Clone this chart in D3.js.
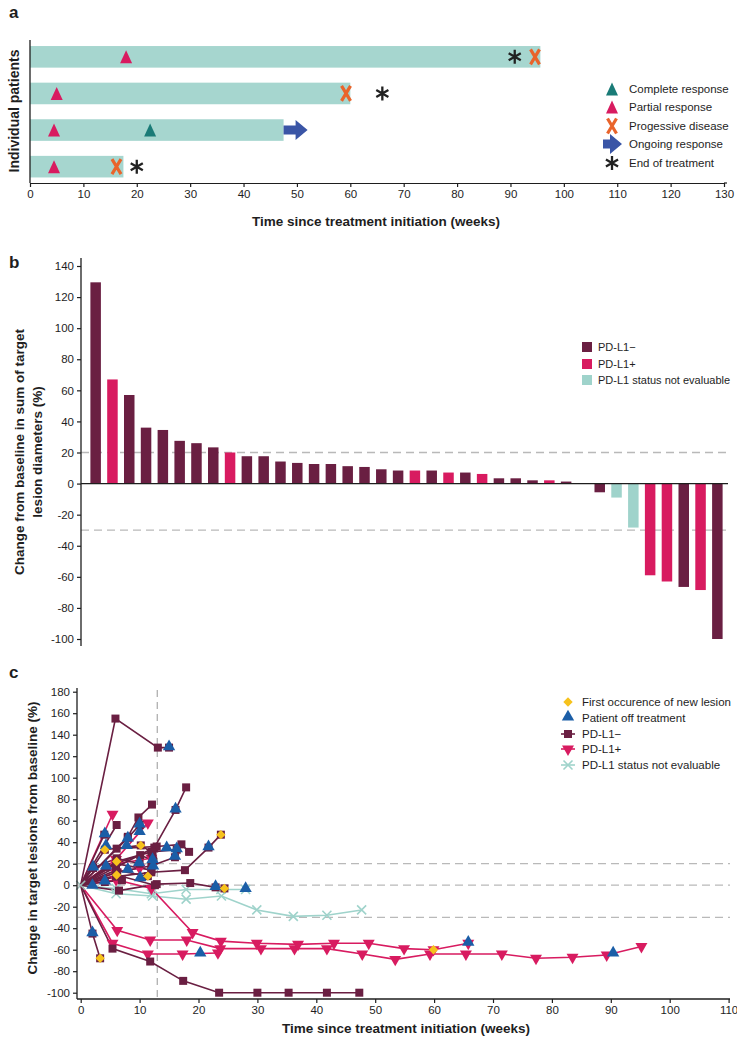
<!DOCTYPE html>
<html><head><meta charset="utf-8">
<script src="https://cdn.jsdelivr.net/npm/d3@7"></script>
<style>
body{margin:0;background:#fff}
svg{display:block;font-family:"Liberation Sans",Arial,sans-serif}
</style></head><body>
<svg id="chart" width="737" height="1039"></svg>
<script>
// ---------------- DATA ----------------
// Panel a: swimmer plot (weeks)
const aPatients=[0,1,2,3];
const aDurations=[95.6,60,47.5,17.5];
const aPartial=[18,5,4.5,4.5];
const aComplete=[null,null,22.5,null];
const aProgressive=[94.6,59.2,null,16.2];
const aEndTreatment=[90.8,66,null,20];
const aOngoingTo=[null,null,52,null];
const aTicks=[0,10,20,30,40,50,60,70,80,90,100,110,120,130];
const aLegend=["Complete response","Partial response","Progessive disease","Ongoing response","End of treatment"];

// Panel b: waterfall (best % change)
const bValues=[129.5,67,57,36,34.5,27.5,26,23.3,20,17.6,17.6,14.2,13.3,12.6,12.6,11.2,10.7,9.2,8.4,8.4,8.4,7.1,7.1,6.2,3.4,3.4,2.1,2.1,1.3,0,-5.6,-9,-28.3,-59,-63,-66.5,-68.5,-100];
const bGroups=["neg","pos","neg","neg","neg","neg","neg","neg","pos","neg","neg","neg","neg","neg","neg","neg","neg","neg","neg","pos","neg","pos","neg","pos","neg","neg","neg","pos","neg","neg","neg","ne","ne","pos","pos","neg","pos","neg"];
const bTicks=[-100,-80,-60,-40,-20,0,20,40,60,80,100,120,140];
const bRefLines=[20,-30];
const bLegend=["PD-L1\u2212","PD-L1+","PD-L1 status not evaluable"];

// Panel c: spider plot, [week, % change]
const cGroups=["neg","neg","neg","neg","neg","neg","neg","neg","neg","neg","neg","neg","neg","neg","neg","neg","neg","neg","neg","neg",
               "pos","pos","pos","pos","pos","pos","pos","ne","ne"];
const cSeries=[
 [[0,0],[5.9,155],[13.1,128],[15,128]],
 [[0,0],[6.1,56]],
 [[0,0],[8,45],[9.8,63],[12.1,75]],
 [[0,0],[12.5,35],[16.1,70],[17.9,91]],
 [[0,0],[6,8],[12,12],[17.7,14],[21.7,35],[23.8,47]],
 [[0,0],[6.5,-5],[12.9,1],[18.6,2],[22.9,-2],[24.4,-3]],
 [[0,0],[2,-45],[3.3,-68]],
 [[0,0],[5.4,-59],[11.8,-71],[17.4,-89],[23.5,-100],[30,-100],[35.3,-100],[41.8,-100],[47.3,-100]],
 [[0,0],[6.1,34],[12.9,36],[17.1,38],[18.4,31]],
 [[0,0],[6.1,22],[12,31],[16.3,33]],
 [[0,0],[4.1,33],[10.2,37],[12.2,30]],
 [[0,0],[6.1,9.5],[12.6,0]],
 [[0,0],[4.3,17],[10.1,28],[12.3,23]],
 [[0,0],[4.1,3],[7,4.6]],
 [[0,0],[6,14],[11.4,8.4]],
 [[0,0],[2.1,16],[6.1,25],[10,20]],
 [[0,0],[4,47]],
 [[0,0],[8,44],[10,56]],
 [[0,0],[6.2,12],[12,18],[16,26]],
 [[0,0],[6,20],[12,14]],
 [[0,0],[6.2,-42],[11.8,-51],[18,-51],[23.7,-59],[30.6,-59],[36.3,-59],[41.8,-59],[47.8,-64],[53.4,-69],[59.3,-64],[65.4,-64],[71.5,-64],[77.3,-68],[83.5,-67],[89.3,-65],[95.2,-57]],
 [[0,0],[5.4,-54],[11.4,-64],[17.3,-64],[23.3,-63]],
 [[0,0],[6,5],[12,-3],[19,-44],[23.8,-52],[29.9,-54],[36.9,-55],[43,-54],[48.9,-54],[54.9,-59],[59.9,-60],[65.8,-54]],
 [[0,0],[5.4,66]],
 [[0,0],[6,24],[11.4,58]],
 [[0,0],[6,20],[12,25]],
 [[0,0],[6,12],[10,16]],
 [[0,0],[6,-8],[12.2,-10],[17.9,-13],[23.9,-10],[29.9,-23],[36.1,-29],[41.8,-28],[47.7,-23]],
 [[0,0],[6,-3],[12,-8],[17.9,-4],[23.8,-4],[28,-4]]
];
const cOffTreatment=[[15,128],[16.1,70],[21.7,35],[22.9,-2],[28,-4],[2,-45],[20.3,-64],[65.8,-54],[90.4,-64],
 [4.1,47],[8,43],[10,49],[10,56],[4.3,36],[7.8,36],[2.1,16],[4.3,17],[8,14],[9.9,20],[10.1,6],[12.2,23],[12.3,17],[14.6,34],[16.3,33],[16,26],[2,-1],[4.1,3]];
const cNewLesion=[[4.1,33],[6.1,22],[6.1,9.5],[10.2,37],[11.4,8.4],[23.8,47],[24.4,-3],[3.3,-68],[59.9,-60]];
const cYTicks=[-100,-80,-60,-40,-20,0,20,40,60,80,100,120,140,160,180];
const cXTicks=[0,10,20,30,40,50,60,70,80,90,100,110];
const cRefLines=[20,0,-30];
const cCutoffWeek=13;
const cLegend=["First occurence of new lesion","Patient off treatment","PD-L1\u2212","PD-L1+","PD-L1 status not evaluable"];

// ---------------- STYLE ----------------
const COL={neg:"#6a1f42",pos:"#d81b60",ne:"#9fd3cb",blue:"#1b5ea7",yellow:"#f6c21c",orange:"#e9642b",bar:"#a6d6cf",cr:"#1a7b77",arrow:"#3a55a6",ink:"#1e1e1e",dash:"#b9b9b9"};
const svg=d3.select("#chart");
const TF=11.5;
function styleAxis(g){
  g.selectAll("path,line").attr("stroke",COL.ink).attr("stroke-width",1.2);
  g.selectAll("text").attr("font-size",TF).attr("fill",COL.ink).attr("font-family","'Liberation Sans',Arial,sans-serif");
}
function bold(t,x,y,size,anchor,rot){
  const e=svg.append("text").attr("font-weight","bold").attr("font-size",size).attr("fill",COL.ink)
   .attr("text-anchor",anchor||"middle");
  if(rot){e.attr("transform",`translate(${x},${y}) rotate(-90)`);} else {e.attr("x",x).attr("y",y);}
  e.text(t);return e;
}
function asterisk(g,x,y,r){
  const p=d3.path();
  for(let k=0;k<3;k++){const a=Math.PI/2+k*Math.PI/3;p.moveTo(x+r*Math.cos(a),y+r*Math.sin(a));p.lineTo(x-r*Math.cos(a),y-r*Math.sin(a));}
  g.append("path").attr("d",p.toString()).attr("stroke","#222").attr("stroke-width",2.3).attr("fill","none");
}
function xMark(g,x,y){
  const p=d3.path();p.moveTo(x-4.5,y-7.5);p.lineTo(x+4.5,y+7.5);p.moveTo(x+4.5,y-7.5);p.lineTo(x-4.5,y+7.5);
  g.append("path").attr("d",p.toString()).attr("stroke",COL.orange).attr("stroke-width",3.2).attr("fill","none");
}
function tri(g,x,y,col,w,h){
  g.append("path").attr("d",`M${x},${y-h/2}L${x+w/2},${y+h/2}L${x-w/2},${y+h/2}Z`).attr("fill",col);
}
function arrow(g,x0,x1,y){
  const hl=12,sh=4.5,hh=10;
  g.append("path").attr("d",`M${x0},${y-sh}L${x1-hl},${y-sh}L${x1-hl},${y-hh}L${x1},${y}L${x1-hl},${y+hh}L${x1-hl},${y+sh}L${x0},${y+sh}Z`).attr("fill",COL.arrow);
}

// ---------------- PANEL A ----------------
bold("a",9,18,17,"start");
const xA=d3.scaleLinear().domain([0,130]).range([30,724]);
const yA=d3.scaleBand().domain(aPatients).range([40,183.5]).paddingInner(0.41).paddingOuter(0.165);
const gA=svg.append("g");
gA.selectAll("rect.bar").data(aPatients).join("rect")
  .attr("x",xA(0)).attr("y",d=>yA(d)).attr("width",d=>xA(aDurations[d])-xA(0)).attr("height",yA.bandwidth()).attr("fill",COL.bar);
aPatients.forEach(i=>{
  const cy=yA(i)+yA.bandwidth()/2;
  if(aOngoingTo[i]!=null) arrow(gA,xA(aDurations[i]),xA(aOngoingTo[i]),cy);
  if(aPartial[i]!=null) tri(gA,xA(aPartial[i]),cy,COL.pos,12,13);
  if(aComplete[i]!=null) tri(gA,xA(aComplete[i]),cy,COL.cr,12,13);
  if(aEndTreatment[i]!=null) asterisk(gA,xA(aEndTreatment[i]),cy,7);
  if(aProgressive[i]!=null) xMark(gA,xA(aProgressive[i]),cy);
});
svg.append("line").attr("x1",30).attr("x2",30).attr("y1",40).attr("y2",183).attr("stroke",COL.ink).attr("stroke-width",1.3);
const axA=svg.append("g").attr("transform","translate(0,183)")
  .call(d3.axisBottom(xA).tickValues(aTicks).tickSize(4).tickPadding(3).tickSizeOuter(0));
styleAxis(axA);
svg.append("line").attr("x1",724).attr("x2",727).attr("y1",183).attr("y2",183).attr("stroke",COL.ink).attr("stroke-width",1.2);
bold("Individual patients",19,111,14,"middle",true);
bold("Time since treatment initiation (weeks)",376,226,13.5);
// legend a
const la=svg.append("g");
const laY=[89,107,126,144,163];
tri(la,612,laY[0],COL.cr,12,13);
tri(la,612,laY[1],COL.pos,12,13);
xMark(la,612,laY[2]);
arrow(la,603,622,laY[3]);
asterisk(la,612,laY[4],7);
aLegend.forEach((t,i)=>la.append("text").attr("x",629).attr("y",laY[i]+4).attr("font-size",11.5).attr("fill",COL.ink).text(t));

// ---------------- PANEL B ----------------
bold("b",9,268,17,"start");
const xB=d3.scaleBand().domain(d3.range(bValues.length)).range([83,730]).paddingInner(0.375).paddingOuter(0.44);
const yB=d3.scaleLinear().domain([-100,140]).range([639,266]);
svg.append("g").selectAll("line").data(bRefLines).join("line")
  .attr("x1",81).attr("x2",728).attr("y1",d=>yB(d)).attr("y2",d=>yB(d))
  .attr("stroke",COL.dash).attr("stroke-width",1.3).attr("stroke-dasharray","8,5");
svg.append("g").selectAll("rect").data(bValues.map((v,i)=>({v,i}))).join("rect")
  .attr("x",d=>xB(d.i)).attr("width",xB.bandwidth())
  .attr("y",d=>yB(Math.max(0,d.v))).attr("height",d=>Math.abs(yB(d.v)-yB(0)))
  .attr("fill",d=>COL[bGroups[d.i]]);
const axB=svg.append("g").attr("transform","translate(81,0)")
  .call(d3.axisLeft(yB).tickValues(bTicks).tickFormat(d=>String(d)).tickSize(4).tickPadding(3));
axB.select(".domain").remove();
styleAxis(axB);
svg.append("line").attr("x1",81).attr("x2",81).attr("y1",258).attr("y2",646).attr("stroke",COL.ink).attr("stroke-width",1.3);
svg.append("line").attr("x1",81).attr("x2",728).attr("y1",yB(0)).attr("y2",yB(0)).attr("stroke",COL.ink).attr("stroke-width",1.3);
bold("Change from baseline in sum of target",24,452,13.5,"middle",true);
bold("lesion diameters (%)",42,452,13.5,"middle",true);
const lb=svg.append("g");
const lbY=[347,364,380];
["neg","pos","ne"].forEach((k,i)=>{
  lb.append("rect").attr("x",582).attr("y",lbY[i]-5).attr("width",10).attr("height",10).attr("fill",COL[k]);
  lb.append("text").attr("x",598).attr("y",lbY[i]+4).attr("font-size",11).attr("fill",COL.ink).text(bLegend[i]);
});

// ---------------- PANEL C ----------------
bold("c",9,678,17,"start");
const xC=d3.scaleLinear().domain([0,110]).range([80.7,728.6]);
const yC=d3.scaleLinear().domain([-100,180]).range([992.7,691.7]);
const gC=svg.append("g");
gC.selectAll("line.ref").data(cRefLines).join("line")
  .attr("x1",78).attr("x2",730).attr("y1",d=>yC(d)).attr("y2",d=>yC(d))
  .attr("stroke",COL.dash).attr("stroke-width",1.3).attr("stroke-dasharray","8,5");
gC.append("line").attr("x1",xC(cCutoffWeek)).attr("x2",xC(cCutoffWeek)).attr("y1",690).attr("y2",999)
  .attr("stroke","#a9a9a9").attr("stroke-width",1.2).attr("stroke-dasharray","7,5");
const line=d3.line().x(d=>xC(d[0])).y(d=>yC(d[1]));
const order=d3.range(cSeries.length).sort((a,b)=>{const r={ne:0,pos:1,neg:2};return r[cGroups[a]]-r[cGroups[b]];});
order.forEach(i=>{
  gC.append("path").attr("d",line(cSeries[i])).attr("fill","none").attr("stroke",COL[cGroups[i]]).attr("stroke-width",1.6);
});
const sq=d3.symbol().type(d3.symbolSquare).size(64);
const dtri=d3.symbol().type(d3.symbolTriangle).size(62);
function xSym(g,x,y,col){
  const p=d3.path();p.moveTo(x-4.5,y-4.5);p.lineTo(x+4.5,y+4.5);p.moveTo(x+4.5,y-4.5);p.lineTo(x-4.5,y+4.5);
  g.append("path").attr("d",p.toString()).attr("stroke",col).attr("stroke-width",1.6).attr("fill","none");
}
function cMarker(g,group,x,y){
  if(group==="neg") g.append("path").attr("d",sq()).attr("transform",`translate(${x},${y})`).attr("fill",COL.neg);
  else if(group==="pos") g.append("path").attr("d",dtri()).attr("transform",`translate(${x},${y}) rotate(180)`).attr("fill",COL.pos);
  else xSym(g,x,y,COL.ne);
}
order.forEach(i=>{
  cSeries[i].slice(1).forEach(p=>cMarker(gC,cGroups[i],xC(p[0]),yC(p[1])));
});
xSym(gC,xC(0),yC(0),"#9bb9b5");
const utri=d3.symbol().type(d3.symbolTriangle).size(66);
gC.selectAll("path.off").data(cOffTreatment).join("path").attr("class","off")
  .attr("d",utri()).attr("transform",d=>`translate(${xC(d[0])},${yC(d[1])-1})`).attr("fill",COL.blue);
const dia=d3.symbol().type(d3.symbolSquare).size(44);
gC.selectAll("path.nl").data(cNewLesion).join("path").attr("class","nl")
  .attr("d",dia()).attr("transform",d=>`translate(${xC(d[0])},${yC(d[1])}) rotate(45)`).attr("fill",COL.yellow);
const axCY=svg.append("g").attr("transform","translate(77,0)")
  .call(d3.axisLeft(yC).tickValues(cYTicks).tickFormat(d=>String(d)).tickSize(4).tickPadding(3));
axCY.select(".domain").remove(); styleAxis(axCY);
const axCX=svg.append("g").attr("transform","translate(0,999)")
  .call(d3.axisBottom(xC).tickValues(cXTicks).tickSize(4).tickPadding(3));
axCX.select(".domain").remove(); styleAxis(axCX);
svg.append("line").attr("x1",77).attr("x2",77).attr("y1",688).attr("y2",999).attr("stroke",COL.ink).attr("stroke-width",1.3);
svg.append("line").attr("x1",77).attr("x2",730).attr("y1",999).attr("y2",999).attr("stroke",COL.ink).attr("stroke-width",1.3);
bold("Change in target lesions from baseline (%)",37,838,13.5,"middle",true);
bold("Time since treatment initiation (weeks)",406,1033,13.5);
// legend c
const lc=svg.append("g");
const lcY=[702,718,734,749,765];
lc.append("path").attr("d",dia()).attr("transform",`translate(568,${lcY[0]}) rotate(45)`).attr("fill",COL.yellow);
lc.append("path").attr("d",utri()).attr("transform",`translate(568,${lcY[1]-1})`).attr("fill",COL.blue);
lc.append("line").attr("x1",561).attr("x2",575).attr("y1",lcY[2]).attr("y2",lcY[2]).attr("stroke",COL.neg).attr("stroke-width",1.6);
cMarker(lc,"neg",568,lcY[2]);
lc.append("line").attr("x1",561).attr("x2",575).attr("y1",lcY[3]).attr("y2",lcY[3]).attr("stroke",COL.pos).attr("stroke-width",1.6);
cMarker(lc,"pos",568,lcY[3]);
lc.append("line").attr("x1",561).attr("x2",575).attr("y1",lcY[4]).attr("y2",lcY[4]).attr("stroke",COL.ne).attr("stroke-width",1.6);
cMarker(lc,"ne",568,lcY[4]);
cLegend.forEach((t,i)=>lc.append("text").attr("x",582).attr("y",lcY[i]+4).attr("font-size",11.5).attr("fill",COL.ink).text(t));
</script>
</body></html>
